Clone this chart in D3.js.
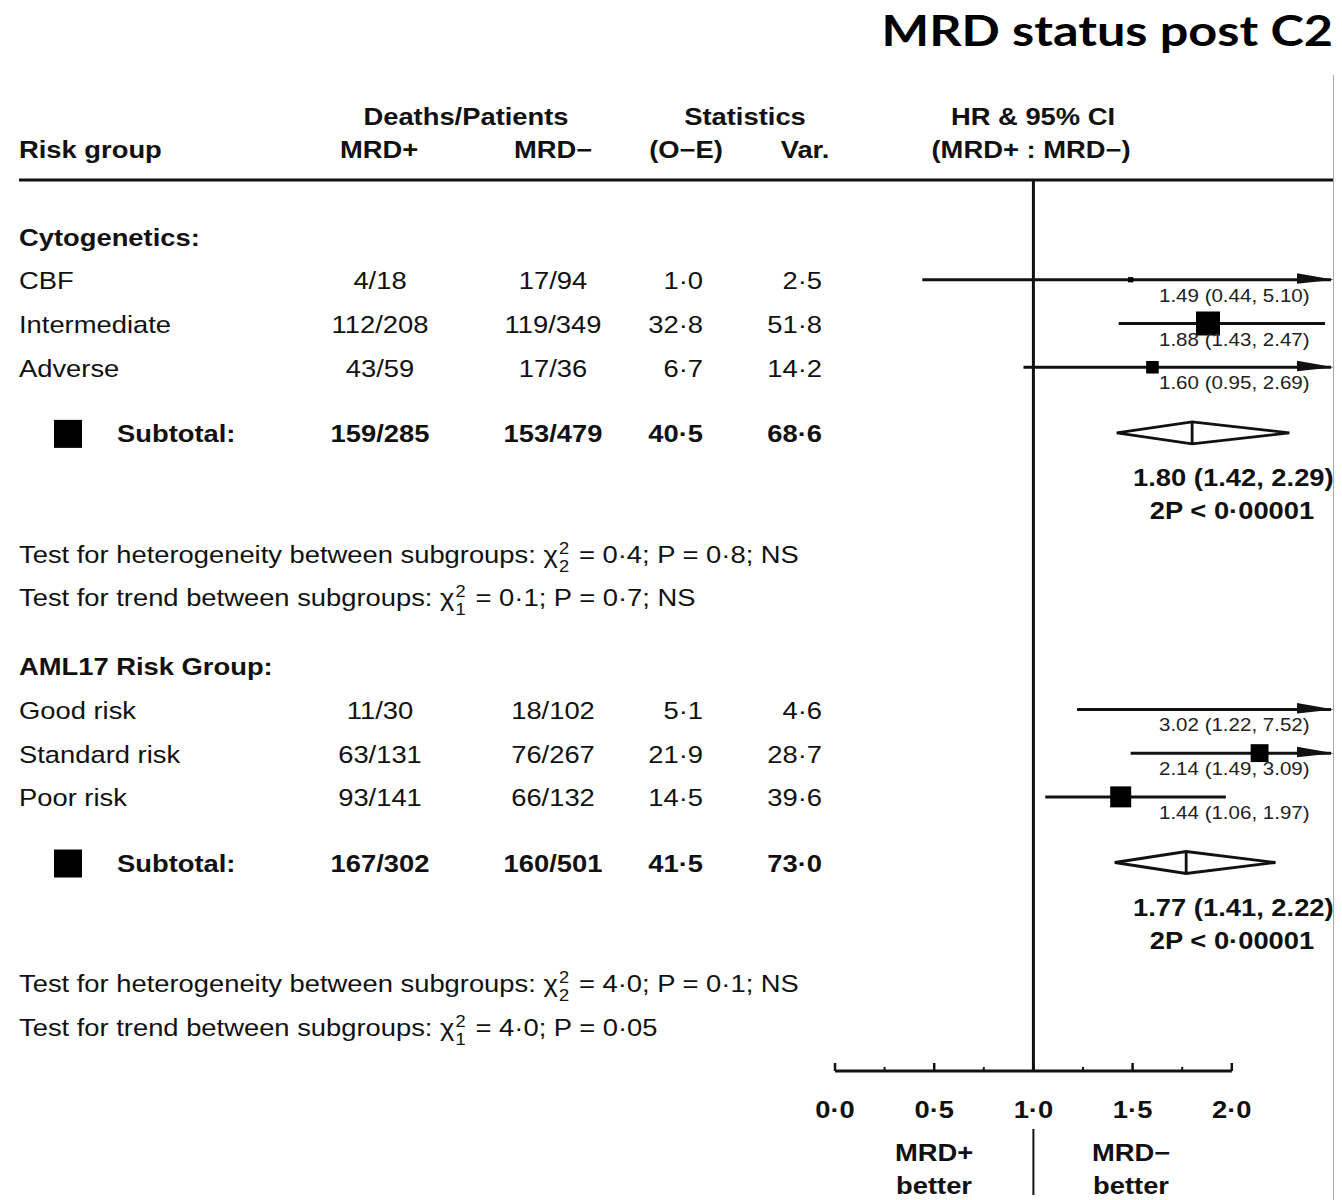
<!DOCTYPE html>
<html>
<head>
<meta charset="utf-8">
<script src="https://cdn.jsdelivr.net/npm/d3@7"></script>
<style>
  body { margin: 0; background: #fff; }
  svg text { font-family: "Liberation Sans", Arial, Helvetica, sans-serif; }
  svg text.title { font-family: Lato, "Open Sans", sans-serif; }
</style>
</head>
<body>
<svg id="chart" width="1334" height="1200"></svg>
<script>
// ---- data ----
var groupNames = ['Cytogenetics:', 'AML17 Risk Group:'];
var rowNames = ['CBF', 'Intermediate', 'Adverse', 'Good risk', 'Standard risk', 'Poor risk'];
var rowGroup = [0, 0, 0, 1, 1, 1];
var rowSlot = [1, 2, 3, 1, 2, 3];
var mrdPos = ['4/18', '112/208', '43/59', '11/30', '63/131', '93/141'];
var mrdNeg = ['17/94', '119/349', '17/36', '18/102', '76/267', '66/132'];
var oMinusE = [1.0, 32.8, 6.7, 5.1, 21.9, 14.5];
var variance = [2.5, 51.8, 14.2, 4.6, 28.7, 39.6];
var hr = [1.49, 1.88, 1.60, 3.02, 2.14, 1.44];
var hrLo = [0.44, 1.43, 0.95, 1.22, 1.49, 1.06];
var hrHi = [5.10, 2.47, 2.69, 7.52, 3.09, 1.97];

var subPos = ['159/285', '167/302'];
var subNeg = ['153/479', '160/501'];
var subOE = [40.5, 41.5];
var subVar = [68.6, 73.0];
var subHr = [1.80, 1.77];
var subLo = [1.42, 1.41];
var subHi = [2.29, 2.22];
var subP = ['2P < 0·00001', '2P < 0·00001'];

var hetChi = ['0·4', '4·0'];
var hetP = ['P = 0·8; NS', 'P = 0·1; NS'];
var trendChi = ['0·1', '4·0'];
var trendP = ['P = 0·7; NS', 'P = 0·05'];

var majorTicks = [0, 0.5, 1, 1.5, 2];
var minorTicks = [0.25, 0.75, 1.25, 1.75];

// ---- setup ----
var svg = d3.select('#chart');
var SX = 1.14;      // source figure is stretched horizontally
var groupStart = [0, 9.82];

var x = d3.scaleLinear().domain([0, 2.5]).range([835, 1331]);
var y = d3.scaleLinear().domain([0, 1]).range([237, 280.75]);
var boxSide = d3.scaleSqrt().domain([0, 51.8]).range([0, 24]);
var fmt = function (v) { return d3.format('.1f')(v).replace('.', '·'); };
var fmt2 = d3.format('.2f');

function put(sel, px, py, str, o) {
  o = o || {};
  return sel.append('text')
    .attr('transform', 'translate(' + px + ',' + py + ') scale(' + (o.sx || SX) + ',1)')
    .attr('text-anchor', o.anchor || 'start')
    .attr('font-size', o.size || 24)
    .attr('font-weight', o.bold ? 'bold' : 'normal')
    .attr('fill', o.fill || '#111')
    .text(str);
}
function rowY(g, slot) { return y(groupStart[g] + slot); }
var BL = 8.5; // centre -> baseline

// title
put(svg, 1333, 46, 'MRD status post C2', {size: 42, bold: true, anchor: 'end', sx: 1.2, fill: '#000'})
  .attr('class', 'title');

// header
put(svg, 466, 125, 'Deaths/Patients', {bold: true, anchor: 'middle'});
put(svg, 745, 125, 'Statistics', {bold: true, anchor: 'middle'});
put(svg, 1033, 125, 'HR & 95% CI', {bold: true, anchor: 'middle'});
put(svg, 19, 158, 'Risk group', {bold: true});
put(svg, 379, 158, 'MRD+', {bold: true, anchor: 'middle'});
put(svg, 553, 158, 'MRD\u2212', {bold: true, anchor: 'middle'});
put(svg, 686, 158, '(O\u2212E)', {bold: true, anchor: 'middle'});
put(svg, 805, 158, 'Var.', {bold: true, anchor: 'middle'});
put(svg, 1031, 158, '(MRD+ : MRD\u2212)', {bold: true, anchor: 'middle'});

svg.append('line').attr('x1', 19).attr('x2', 1334).attr('y1', 180).attr('y2', 180)
  .attr('stroke', '#111').attr('stroke-width', 3);

// reference line at HR = 1
svg.append('line').attr('x1', x(1)).attr('x2', x(1)).attr('y1', 180).attr('y2', 1071)
  .attr('stroke', '#111').attr('stroke-width', 3);

// group headers, rows
groupNames.forEach(function (g, gi) {
  put(svg, 19, rowY(gi, 0) + BL, g, {bold: true});
});

rowNames.forEach(function (name, i) {
  var g = rowGroup[i], yc = rowY(g, rowSlot[i]);
  put(svg, 19, yc + BL, name);
  put(svg, 380, yc + BL, mrdPos[i], {anchor: 'middle'});
  put(svg, 553, yc + BL, mrdNeg[i], {anchor: 'middle'});
  put(svg, 703, yc + BL, fmt(oMinusE[i]), {anchor: 'end'});
  put(svg, 822, yc + BL, fmt(variance[i]), {anchor: 'end'});

  var ly = yc - 1;
  var xe = Math.min(x(hrHi[i]), x(2.5));
  svg.append('line').attr('x1', x(hrLo[i])).attr('x2', xe).attr('y1', ly).attr('y2', ly)
    .attr('stroke', '#111').attr('stroke-width', 3);
  if (hrHi[i] > 2.5) {
    svg.append('path')
      .attr('d', 'M' + (xe - 34) + ',' + (ly - 6.5) + 'L' + (xe + 3) + ',' + ly + 'L' + (xe - 34) + ',' + (ly + 4) + 'Z')
      .attr('fill', '#111');
  }
  if (hr[i] <= 2.5) {
    var s = boxSide(variance[i]);
    svg.append('rect').attr('x', x(hr[i]) - s / 2).attr('y', ly - s / 2)
      .attr('width', s).attr('height', s).attr('fill', '#000');
  }
  put(svg, 1159, ly + 22, fmt2(hr[i]) + ' (' + fmt2(hrLo[i]) + ', ' + fmt2(hrHi[i]) + ')',
    {size: 18, fill: '#222'});
});

// subtotals
subPos.forEach(function (sp, gi) {
  var yc = rowY(gi, 4.5);
  svg.append('rect').attr('x', 54).attr('y', yc - 14).attr('width', 28).attr('height', 28).attr('fill', '#000');
  put(svg, 117, yc + BL, 'Subtotal:', {bold: true});
  put(svg, 380, yc + BL, sp, {bold: true, anchor: 'middle'});
  put(svg, 553, yc + BL, subNeg[gi], {bold: true, anchor: 'middle'});
  put(svg, 703, yc + BL, fmt(subOE[gi]), {bold: true, anchor: 'end'});
  put(svg, 822, yc + BL, fmt(subVar[gi]), {bold: true, anchor: 'end'});

  var dy = yc - 1, h = 11;
  svg.append('path')
    .attr('d', 'M' + x(subLo[gi]) + ',' + dy + 'L' + x(subHr[gi]) + ',' + (dy - h) +
      'L' + x(subHi[gi]) + ',' + dy + 'L' + x(subHr[gi]) + ',' + (dy + h) + 'Z' +
      'M' + x(subHr[gi]) + ',' + (dy - h) + 'L' + x(subHr[gi]) + ',' + (dy + h))
    .attr('fill', '#fff').attr('stroke', '#111').attr('stroke-width', 2.8);

  put(svg, 1133, rowY(gi, 5.5) + BL,
    fmt2(subHr[gi]) + ' (' + fmt2(subLo[gi]) + ', ' + fmt2(subHi[gi]) + ')', {bold: true});
  put(svg, 1232, rowY(gi, 6.25) + BL, subP[gi], {bold: true, anchor: 'middle'});

  // heterogeneity / trend tests
  var tests = [
    ['Test for heterogeneity between subgroups: ', '2', hetChi[gi], hetP[gi], 7.25],
    ['Test for trend between subgroups: ', '1', trendChi[gi], trendP[gi], 8.25]
  ];
  tests.forEach(function (t) {
    var el = put(svg, 19, rowY(gi, t[4]) + BL, t[0] + '\u03c7');
    el.append('tspan').attr('font-size', 16).attr('dx', 1).attr('dy', -9).text('2');
    el.append('tspan').attr('font-size', 16).attr('dx', -8.9).attr('dy', 18).text(t[1]);
    el.append('tspan').attr('dx', 2).attr('dy', -9).text(' = ' + t[2] + '; ' + t[3]);
  });
});

// axis
var axisY = 1071;
svg.append('line').attr('x1', x(0)).attr('x2', x(2)).attr('y1', axisY).attr('y2', axisY)
  .attr('stroke', '#111').attr('stroke-width', 3);
svg.selectAll('.major').data(majorTicks).join('line')
  .attr('x1', d => x(d)).attr('x2', d => x(d))
  .attr('y1', axisY).attr('y2', axisY - 8)
  .attr('stroke', '#111').attr('stroke-width', 2.5);
svg.selectAll('.minor').data(minorTicks).join('line')
  .attr('x1', d => x(d)).attr('x2', d => x(d))
  .attr('y1', axisY).attr('y2', axisY - 4)
  .attr('stroke', '#111').attr('stroke-width', 2);
majorTicks.forEach(function (t) {
  put(svg, x(t), 1118, fmt(t), {bold: true, anchor: 'middle'});
});

svg.append('line').attr('x1', x(1)).attr('x2', x(1)).attr('y1', 1129).attr('y2', 1195)
  .attr('stroke', '#111').attr('stroke-width', 2);
put(svg, 934, 1161, 'MRD+', {bold: true, anchor: 'middle'});
put(svg, 934, 1194, 'better', {bold: true, anchor: 'middle'});
put(svg, 1131, 1161, 'MRD\u2212', {bold: true, anchor: 'middle'});
put(svg, 1131, 1194, 'better', {bold: true, anchor: 'middle'});

// right border of the cropped figure
svg.append('line').attr('x1', 1333.5).attr('x2', 1333.5).attr('y1', 75).attr('y2', 1200)
  .attr('stroke', '#aaa').attr('stroke-width', 1);
</script>
</body>
</html>
